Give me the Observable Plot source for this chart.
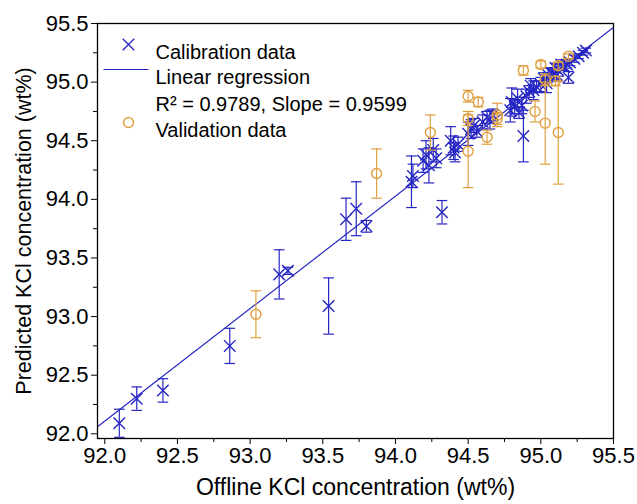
<!DOCTYPE html>
<html><head><meta charset="utf-8">
<script src="https://cdn.jsdelivr.net/npm/d3@7"></script>
<script src="https://cdn.jsdelivr.net/npm/@observablehq/plot@0.6"></script>
<style>body{margin:0;background:#fff}</style>
</head><body><div id="chart"></div>
<script>
// Calibration data: offline (x), predicted (y), error (±)
const calX   = [92.10,92.22,92.40,92.86,93.20,93.26,93.54,93.66,93.73,93.80,94.11,94.12,94.32,94.19,94.21,94.23,94.26,94.28,94.38,94.40,94.41,94.43,94.50,94.52,94.54,94.56,94.60,94.63,94.65,94.67,94.79,94.80,94.82,94.84,94.85,94.88,94.90,94.92,94.95,94.97,95.00,95.02,95.05,95.07,95.09,95.10,95.12,95.14,95.16,95.19,95.20,95.23,95.26,95.29,95.31,94.87,94.93,95.04,95.11,95.18];
const calY   = [92.09,92.30,92.37,92.75,93.36,93.39,93.09,93.83,93.92,93.77,94.15,94.20,93.89,94.33,94.38,94.29,94.42,94.35,94.50,94.44,94.40,94.47,94.56,94.60,94.63,94.58,94.66,94.70,94.68,94.72,94.76,94.83,94.79,94.86,94.74,94.54,94.88,94.92,94.93,94.96,94.98,95.03,95.06,95.08,95.07,95.12,95.10,95.15,95.13,95.04,95.17,95.20,95.22,95.25,95.27,94.80,94.97,94.99,95.06,95.15];
const calErr = [0.12,0.10,0.10,0.15,0.21,0.03,0.24,0.18,0.23,0.05,0.22,0.10,0.10,0.10,0.12,0.15,0.10,0.08,0.12,0.10,0.08,0.06,0.10,0.08,0.06,0.05,0.06,0.05,0.08,0.05,0.10,0.12,0.06,0.08,0.05,0.22,0.06,0.05,0.08,0.05,0.06,0.05,0.06,0.04,0.05,0.04,0.05,0.04,0.03,0.05,0.03,0.03,0.02,0.02,0.02,0.07,0.06,0.08,0.05,0.03];
// Validation data
const valX   = [93.04,93.87,94.24,94.50,94.50,94.50,94.57,94.63,94.70,94.70,94.88,94.96,95.00,95.03,95.03,95.10,95.12,95.12,95.19];
const valY   = [93.02,94.22,94.57,94.88,94.69,94.41,94.83,94.53,94.72,94.69,95.10,94.75,95.15,94.65,95.02,95.01,94.57,95.14,95.22];
const valErr = [0.20,0.21,0.15,0.05,0.06,0.31,0.04,0.06,0.10,0.05,0.04,0.09,0.03,0.35,0.05,0.04,0.44,0.03,0.02];
// Regression
const slope = 0.9599, intercept = 3.797, r2 = 0.9789;
// Axes
const xDomain = [91.95, 95.5], yDomain = [91.96, 95.5];
const majorTicks = [92.0,92.5,93.0,93.5,94.0,94.5,95.0,95.5];
const minorTicks = [92.25,92.75,93.25,93.75,94.25,94.75,95.25];
const xTitle = "Offline KCl concentration (wt%)";
const yTitle = "Predicted KCl concentration (wt%)";
const legendLabels = ["Calibration data","Linear regression","R\u00B2 = 0.9789, Slope = 0.9599","Validation data"];

const blue = "#2626c4", orange = "#e0a040";
const cal = calX.map((x,i)=>({x, y: calY[i], lo: calY[i]-calErr[i], hi: calY[i]+calErr[i]}));
const val = valX.map((x,i)=>({x, y: valY[i], lo: valY[i]-valErr[i], hi: valY[i]+valErr[i]}));
const regLine = xDomain.map(x=>({x, y: intercept + slope*x}));

const hcap = (hw)=>({draw(ctx){ctx.moveTo(-hw,0); ctx.lineTo(hw,0);}});
const cap = hcap(5.3), legLine = hcap(22.5);

function errorMarks(data, color){
  return [
    Plot.ruleX(data, {x:"x", y1:"lo", y2:"hi", stroke: color, strokeWidth: 1.2}),
    Plot.dot(data, {x:"x", y:"lo", symbol: cap, fill:"none", stroke: color, strokeWidth: 1.2, r: 5}),
    Plot.dot(data, {x:"x", y:"hi", symbol: cap, fill:"none", stroke: color, strokeWidth: 1.2, r: 5})
  ];
}

const fs = 22;
const chart = Plot.plot({
  width: 637, height: 504,
  marginLeft: 97, marginRight: 24, marginTop: 23, marginBottom: 66,
  style: {fontFamily: "'Liberation Sans', Arial, sans-serif", fontSize: fs + "px", color: "#000", background: "#fff"},
  x: {domain: xDomain},
  y: {domain: yDomain},
  marks: [
    ...errorMarks(cal, blue),
    Plot.dot(cal, {x:"x", y:"y", symbol:"times", stroke: blue, strokeWidth: 1.4, r: 5.3}),
    Plot.line(regLine, {x:"x", y:"y", stroke: blue, strokeWidth: 1.2, clip: true}),
    ...errorMarks(val, orange),
    Plot.dot(val, {x:"x", y:"y", symbol:"circle", fill:"none", stroke: orange, strokeWidth: 1.4, r: 5}),
    Plot.axisX({ticks: minorTicks, tickSize: 4, text: null, label: null, stroke: "#000"}),
    Plot.axisX({ticks: majorTicks, tickSize: 6, tickPadding: 3, tickFormat: d=>d.toFixed(1), label: null, stroke: "#000", fontSize: fs}),
    Plot.axisY({ticks: minorTicks, tickSize: 4, text: null, label: null, stroke: "#000"}),
    Plot.axisY({ticks: majorTicks, tickSize: 6, tickPadding: 3, tickFormat: d=>d.toFixed(1), label: null, stroke: "#000", fontSize: fs}),
    Plot.frame({stroke: "#000", strokeWidth: 1.3}),
    Plot.text([xTitle], {frameAnchor: "bottom", dy: 56, fontSize: 23, fill: "#000"}),
    Plot.text([yTitle], {frameAnchor: "left", dx: -73, rotate: -90, textAnchor: "middle", fontSize: 21.5, fill: "#000"}),
    // legend
    Plot.dot([0], {frameAnchor: "top-left", dx: 31, dy: 21, symbol: "times", stroke: blue, strokeWidth: 1.4, r: 5.3}),
    Plot.dot([0], {frameAnchor: "top-left", dx: 28.5, dy: 46, symbol: legLine, fill: "none", stroke: blue, strokeWidth: 1.2, r: 5}),
    Plot.dot([0], {frameAnchor: "top-left", dx: 31, dy: 99, symbol: "circle", fill: "none", stroke: orange, strokeWidth: 1.4, r: 5}),
    Plot.text([legendLabels[0]], {frameAnchor: "top-left", dx: 58, dy: 21, textAnchor: "start", fontSize: 20, fill: "#000"}),
    Plot.text([legendLabels[1]], {frameAnchor: "top-left", dx: 58, dy: 46, textAnchor: "start", fontSize: 20, fill: "#000"}),
    Plot.text([legendLabels[2]], {frameAnchor: "top-left", dx: 58, dy: 73, textAnchor: "start", fontSize: 20, fill: "#000"}),
    Plot.text([legendLabels[3]], {frameAnchor: "top-left", dx: 58, dy: 99, textAnchor: "start", fontSize: 20, fill: "#000"})
  ]
});
document.getElementById("chart").appendChild(chart);
</script>
</body></html>
